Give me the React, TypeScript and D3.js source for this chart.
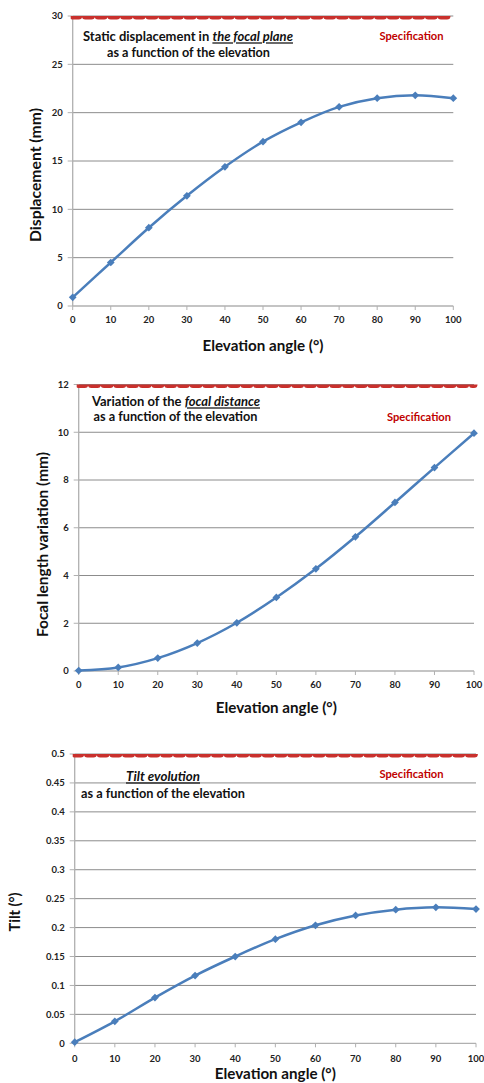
import React from "react";
import * as d3 from "d3";

const angles = [0, 10, 20, 30, 40, 50, 60, 70, 80, 90, 100];
const displacement = [0.9, 4.5, 8.1, 11.4, 14.4, 17.0, 19.0, 20.6, 21.5, 21.8, 21.5];
const focalVariation = [0.02, 0.15, 0.54, 1.17, 2.02, 3.08, 4.28, 5.62, 7.06, 8.52, 9.96];
const tilt = [0.002, 0.038, 0.079, 0.117, 0.15, 0.18, 0.204, 0.221, 0.231, 0.235, 0.232];
const xTicks = [0, 10, 20, 30, 40, 50, 60, 70, 80, 90, 100];
const dispTicks = [0, 5, 10, 15, 20, 25, 30];
const focalTicks = [0, 2, 4, 6, 8, 10, 12];
const tiltTicks = [0, 0.05, 0.1, 0.15, 0.2, 0.25, 0.3, 0.35, 0.4, 0.45, 0.5];
const specLimits = [30, 12, 0.5];

const FONT = "Lato, 'Open Sans', sans-serif";
const LINE = "#4a7ebb";
const GRID = "#8c8c8c";
const AXIS = "#b0b0b0";

type ChartProps = {
  id: string;
  values: number[];
  yTicks: number[];
  yMax: number;
  spec: number;
  x0: number; x1: number; yTop: number; yBot: number;
  xLabelY: number; xTitleY: number;
  yTitle: string; yTitleX: number; yTitleY: number; yTitleLen?: number;
  title: React.ReactNode;
  specX: number; specY: number;
};

function Chart(p: ChartProps) {
  const x = d3.scaleLinear().domain([0, 100]).range([p.x0, p.x1]);
  const y = d3.scaleLinear().domain([0, p.yMax]).range([p.yBot, p.yTop]);
  const pts: [number, number][] = angles.map((a, i) => [x(a), y(p.values[i])]);
  const line = d3.line().curve(d3.curveCatmullRom.alpha(0.5))(pts) || "";
  const diamond = d3.symbol().type(d3.symbolSquare).size(30)() || "";
  const clipId = "clip-" + p.id;
  return (
    <g fontFamily={FONT}>
      <defs>
        <clipPath id={clipId}>
          <rect x={p.x0 - 2} y={p.yTop} width={p.x1 - p.x0 + 20} height={p.yBot - p.yTop + 10} />
        </clipPath>
      </defs>
      {p.yTicks.map((t) => (
        <g key={"g" + t}>
          {t > 0 && <line x1={p.x0} x2={p.x1} y1={y(t)} y2={y(t)} stroke={GRID} strokeWidth={1} />}
          <line x1={p.x0 - 5} x2={p.x0} y1={y(t)} y2={y(t)} stroke={AXIS} strokeWidth={1} />
          <text x={p.x0 - 10} y={y(t)} dy="0.35em" textAnchor="end" fontSize={9.5} fontWeight={700} fill="#222">
            {String(t)}
          </text>
        </g>
      ))}
      <line x1={p.x0} x2={p.x0} y1={p.yTop} y2={p.yBot} stroke={AXIS} strokeWidth={1.3} />
      <line x1={p.x0} x2={p.x1} y1={p.yBot} y2={p.yBot} stroke={AXIS} strokeWidth={1.3} />
      {xTicks.map((t) => (
        <g key={"x" + t}>
          <line x1={x(t)} x2={x(t)} y1={p.yBot} y2={p.yBot + 4} stroke={AXIS} strokeWidth={1} />
          <text x={x(t)} y={p.xLabelY} dy="0.35em" textAnchor="middle" fontSize={9.5} fontWeight={700} fill="#222">
            {t}
          </text>
        </g>
      ))}
      <line
        x1={x(0)} x2={x(100)} y1={y(p.spec)} y2={y(p.spec)}
        stroke="#c9302c" strokeWidth={7} strokeDasharray="6 6.7" strokeLinecap="round"
        clipPath={`url(#${clipId})`}
      />
      <path d={line} fill="none" stroke={LINE} strokeWidth={2.5} />
      {pts.map((q, i) => (
        <path key={"m" + i} d={diamond} transform={`translate(${q[0]},${q[1]}) rotate(45)`} fill={LINE} />
      ))}
      <text
        x={(p.x0 + p.x1) / 2} y={p.xTitleY} dy="0.35em" textAnchor="middle"
        fontSize={14.5} fontWeight={700} fill="#111" textLength={121} lengthAdjust="spacingAndGlyphs"
      >
        Elevation angle (°)
      </text>
      <text
        transform={`translate(${p.yTitleX},${p.yTitleY}) rotate(-90)`}
        dy="0.35em" textAnchor="middle" fontSize={14.5} fontWeight={700} fill="#111"
        textLength={p.yTitleLen} lengthAdjust={p.yTitleLen ? "spacingAndGlyphs" : undefined}
      >
        {p.yTitle}
      </text>
      {p.title}
      <text
        x={p.specX} y={p.specY} dy="0.35em" textAnchor="middle" fontSize={10.5} fontWeight={700}
        fill="#c00000" textLength={64} lengthAdjust="spacingAndGlyphs"
      >
        Specification
      </text>
    </g>
  );
}

const tStyle = { fontSize: 12.5, fontWeight: 700, fill: "#111", lengthAdjust: "spacingAndGlyphs" } as const;
const em: React.CSSProperties = { fontStyle: "italic", textDecoration: "underline" };

export default function App() {
  return (
    <svg width={484} height={1083} style={{ position: "absolute", left: 0, top: 0, background: "#fff" }}>
      <Chart
        id="a" values={displacement} yTicks={dispTicks} yMax={30} spec={specLimits[0]}
        x0={72.7} x1={453.3} yTop={16} yBot={306}
        xLabelY={320} xTitleY={346}
        yTitle="Displacement (mm)" yTitleX={35.5} yTitleY={175} yTitleLen={134}
        specX={411.5} specY={36}
        title={
          <g fontFamily={FONT}>
            <text x={188} y={37} dy="0.35em" textAnchor="middle" textLength={210} {...tStyle}>
              Static displacement in <tspan style={em}>the focal plane</tspan>
            </text>
            <text x={188.5} y={53} dy="0.35em" textAnchor="middle" textLength={163} {...tStyle}>
              as a function of the elevation
            </text>
          </g>
        }
      />
      <Chart
        id="b" values={focalVariation} yTicks={focalTicks} yMax={12} spec={specLimits[1]}
        x0={78.7} x1={474} yTop={384.5} yBot={671}
        xLabelY={685} xTitleY={708}
        yTitle="Focal length variation (mm)" yTitleX={42.5} yTitleY={544.5} yTitleLen={185}
        specX={419} specY={417}
        title={
          <g fontFamily={FONT}>
            <text x={176} y={402} dy="0.35em" textAnchor="middle" textLength={168} {...tStyle}>
              Variation of the <tspan style={em}>focal distance</tspan>
            </text>
            <text x={175.5} y={417} dy="0.35em" textAnchor="middle" textLength={164} {...tStyle}>
              as a function of the elevation
            </text>
          </g>
        }
      />
      <Chart
        id="c" values={tilt} yTicks={tiltTicks} yMax={0.5} spec={specLimits[2]}
        x0={74.7} x1={476} yTop={754} yBot={1043.3}
        xLabelY={1059} xTitleY={1074}
        yTitle="Tilt (°)" yTitleX={15} yTitleY={912}
        specX={411.5} specY={774.5}
        title={
          <g fontFamily={FONT}>
            <text x={163} y={777} dy="0.35em" textAnchor="middle" textLength={74} {...tStyle}>
              <tspan style={em}>Tilt evolution</tspan>
            </text>
            <text x={163} y={794} dy="0.35em" textAnchor="middle" textLength={164} {...tStyle}>
              as a function of the elevation
            </text>
          </g>
        }
      />
    </svg>
  );
}
